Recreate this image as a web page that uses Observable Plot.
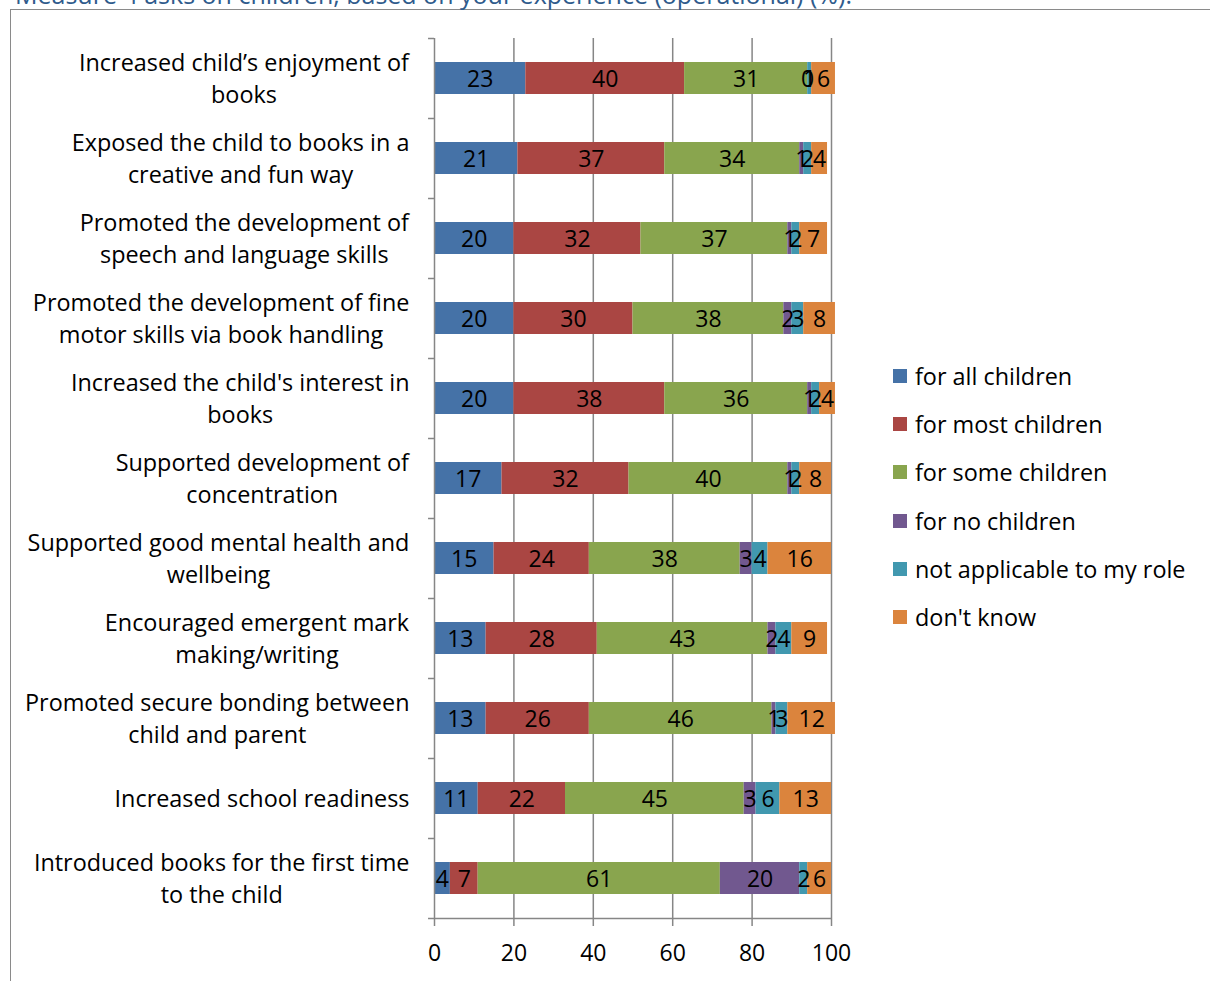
<!DOCTYPE html>
<html>
<head>
<meta charset="utf-8">
<script src="https://cdn.jsdelivr.net/npm/d3@7"></script>
<script src="https://cdn.jsdelivr.net/npm/@observablehq/plot@0.6"></script>
<style>
  html, body { margin: 0; padding: 0; background: #fff; overflow: hidden; }
  #wrap { position: relative; width: 1210px; height: 981px; font-family: "Open Sans", sans-serif; }
  #title { position: absolute; left: 15px; top: -18px; font-size: 25px; color: #2F5B8C; white-space: nowrap; line-height: 24px; }
  #frame { position: absolute; left: 10px; top: 9px; width: 1300px; height: 1100px; border: 1.5px solid #8a8a8a; box-sizing: border-box; }
  #chart { position: absolute; left: 0; top: 0; }
  #legend { position: absolute; left: 893px; top: 361px; font-size: 23.4px; color: #000; }
  .item { position: relative; height: 48.2px; white-space: nowrap; }
  .sw { position: absolute; left: 0; top: 8px; width: 14px; height: 14px; }
  .lab { position: absolute; left: 22px; top: 0; line-height: 30px; }
</style>
</head>
<body>
<div id="wrap">
  <div id="frame"></div>
  <div id="title">Measure 4 asks on children, based on your experience (operational) (%):</div>
  <div id="chart"></div>
  <div id="legend"></div>
</div>
<script>
const categories = [
  "Increased child’s enjoyment of\nbooks",
  "Exposed the child to books in a\ncreative and fun way",
  "Promoted the development of\nspeech and language skills",
  "Promoted the development of fine\nmotor skills via book handling",
  "Increased the child's interest in\nbooks",
  "Supported development of\nconcentration",
  "Supported good mental health and\nwellbeing",
  "Encouraged emergent mark\nmaking/writing",
  "Promoted secure bonding between\nchild and parent",
  "Increased school readiness",
  "Introduced books for the first time\nto the child"
];
const series = ["for all children", "for most children", "for some children", "for no children", "not applicable to my role", "don't know"];
const colors = ["#4572A7", "#AA4643", "#89A54E", "#71588F", "#4198AF", "#DB843D"];

const forAll      = [23, 21, 20, 20, 20, 17, 15, 13, 13, 11, 4];
const forMost     = [40, 37, 32, 30, 38, 32, 24, 28, 26, 22, 7];
const forSome     = [31, 34, 37, 38, 36, 40, 38, 43, 46, 45, 61];
const forNone     = [0, 1, 1, 2, 1, 1, 3, 2, 1, 3, 20];
const notApplic   = [1, 2, 2, 3, 2, 2, 4, 4, 3, 6, 2];
const dontKnow    = [6, 4, 7, 8, 4, 8, 16, 9, 12, 13, 6];
const xTicks = [0, 20, 40, 60, 80, 100];

const seriesValues = [forAll, forMost, forSome, forNone, notApplic, dontKnow];
const rows = [];
categories.forEach((c, i) => {
  series.forEach((s, j) => rows.push({category: c, series: s, value: seriesValues[j][i]}));
});

const gray = "#868686";
const chart = Plot.plot({
  width: 1210,
  height: 981,
  marginLeft: 434,
  marginRight: 379,
  marginTop: 38,
  marginBottom: 63,
  x: {domain: [0, 100]},
  y: {domain: categories, padding: 0},
  color: {domain: series, range: colors},
  style: {fontFamily: "Open Sans", fontSize: "23px", color: "#000", background: "transparent"},
  marks: [
    Plot.ruleX(xTicks.slice(1), {stroke: gray, strokeWidth: 1.5}),
    Plot.barX(rows, Plot.stackX({x: "value", y: "category", fill: "series", order: series, insetTop: 24, insetBottom: 24})),
    Plot.text(rows, Plot.stackX({x: "value", y: "category", z: "series", order: series, text: d => String(d.value), fill: "#000", fontSize: 23, dy: 1})),
    Plot.ruleX([0], {stroke: gray, strokeWidth: 1.5}),
    Plot.ruleY(categories, {y: d => d, dy: -40, x1: -1.5, x2: 0, stroke: gray, strokeWidth: 1.5}),
    Plot.ruleY(categories.slice(-1), {y: d => d, dy: 40, x1: -1.5, x2: 100, stroke: gray, strokeWidth: 1.5}),
    Plot.axisX({ticks: xTicks, tickSize: 8, tickPadding: 18, stroke: gray, strokeWidth: 1.5, strokeOpacity: 1, fontSize: 23, label: null}),
    Plot.axisY({tickSize: 0, tickPadding: 25, fontSize: 23.4, lineHeight: 1.37, dy: -2, label: null})
  ]
});
document.getElementById("chart").appendChild(chart);

// center multi-line category labels within their block (right edge fixed)
chart.querySelectorAll('g[aria-label="y-axis tick label"] text').forEach(t => {
  const w = t.getBBox().width;
  t.setAttribute("text-anchor", "middle");
  const spans = t.querySelectorAll("tspan");
  if (spans.length) spans.forEach(s => s.setAttribute("x", -w / 2));
  else t.setAttribute("x", -w / 2);
});

const legend = document.getElementById("legend");
series.forEach((s, i) => {
  const item = document.createElement("div");
  item.className = "item";
  item.innerHTML = `<div class="sw" style="background:${colors[i]}"></div><div class="lab">${s}</div>`;
  legend.appendChild(item);
});
</script>
</body>
</html>
